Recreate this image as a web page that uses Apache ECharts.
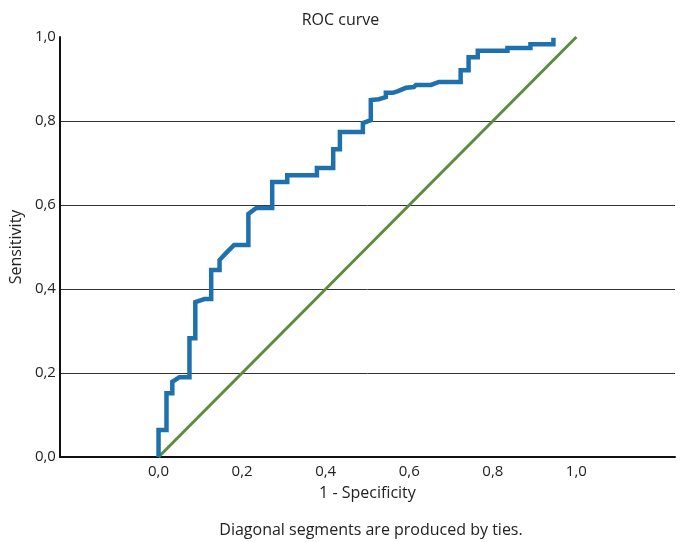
<!DOCTYPE html>
<html>
<head>
<meta charset="utf-8">
<script src="https://cdn.jsdelivr.net/npm/echarts@6/dist/echarts.min.js"></script>
<style>
  html, body { margin: 0; padding: 0; background: #fff; }
  #chart { width: 681px; height: 542px; }
</style>
</head>
<body>
<div id="chart"></div>
<script>
// ROC curve vertices (1 - specificity, sensitivity)
const rocX = [0, 0, 0.019, 0.019, 0.033, 0.033, 0.050, 0.074, 0.074, 0.088, 0.088, 0.110, 0.126, 0.126,
  0.146, 0.146, 0.162, 0.181, 0.215, 0.215, 0.234, 0.272, 0.272, 0.308, 0.308, 0.379, 0.379, 0.418,
  0.418, 0.434, 0.434, 0.489, 0.489, 0.508, 0.508, 0.527, 0.544, 0.544, 0.561, 0.561, 0.573, 0.592,
  0.611, 0.616, 0.652, 0.671, 0.723, 0.723, 0.742, 0.742, 0.764, 0.764, 0.835, 0.835, 0.890, 0.890,
  0.945, 0.945];
const rocY = [0, 0.064, 0.064, 0.152, 0.152, 0.179, 0.190, 0.190, 0.283, 0.283, 0.369, 0.376, 0.376, 0.445,
  0.445, 0.469, 0.486, 0.505, 0.505, 0.579, 0.593, 0.593, 0.655, 0.655, 0.671, 0.671, 0.688, 0.688,
  0.733, 0.733, 0.774, 0.774, 0.795, 0.802, 0.850, 0.852, 0.857, 0.867, 0.867, 0.871, 0.871, 0.879,
  0.881, 0.886, 0.886, 0.893, 0.893, 0.921, 0.921, 0.952, 0.952, 0.967, 0.967, 0.974, 0.974, 0.983,
  0.983, 0.998];
const refX = [0, 1];
const refY = [0, 1];
const xTicks = [0, 0.2, 0.4, 0.6, 0.8, 1.0];

const font = '"Open Sans", Lato, sans-serif';
const fmt = (v) => v.toFixed(1).replace('.', ',');

var myChart = echarts.init(document.getElementById('chart'));

var option = {
  animation: false,
  title: [
    {
      text: 'ROC curve',
      left: 'center',
      top: 7,
      textStyle: { fontFamily: font, fontSize: 16, fontWeight: 'normal', color: '#222' },
    },
    {
      text: 'Diagonal segments are produced by ties.',
      left: 366,
      textAlign: 'center',
      top: 517,
      textStyle: { fontFamily: font, fontSize: 16, fontWeight: 'normal', color: '#222' },
    },
  ],
  grid: { left: 58, right: 6, top: 37, bottom: 85 },
  xAxis: {
    type: 'value',
    min: -0.236,
    max: 1.236,
    name: '1 - Specificity',
    nameLocation: 'middle',
    nameGap: 28,
    nameTextStyle: { fontFamily: font, fontSize: 16, color: '#222' },
    axisLine: { show: true, onZero: false, lineStyle: { color: '#111', width: 2 } },
    axisTick: { show: false },
    splitLine: { show: false },
    axisLabel: {
      customValues: xTicks,
      formatter: fmt,
      fontFamily: font,
      fontSize: 15,
      color: '#222',
      margin: 7,
    },
  },
  yAxis: {
    type: 'value',
    min: 0,
    max: 1,
    interval: 0.2,
    name: 'Sensitivity',
    nameLocation: 'middle',
    nameGap: 33,
    nameTextStyle: { fontFamily: font, fontSize: 16, color: '#222' },
    axisLine: { show: true, onZero: false, lineStyle: { color: '#111', width: 2 } },
    axisTick: { show: false },
    splitLine: {
      show: true,
      showMinLine: false,
      showMaxLine: false,
      lineStyle: { color: '#333', width: 1 },
    },
    axisLabel: { formatter: fmt, fontFamily: font, fontSize: 15, color: '#222', margin: 4 },
  },
  series: [
    {
      type: 'line',
      data: refX.map((x, i) => [x, refY[i]]),
      showSymbol: false,
      lineStyle: { color: '#5b8c3f', width: 3 },
      z: 2,
    },
    {
      type: 'line',
      data: rocX.map((x, i) => [x, rocY[i]]),
      showSymbol: false,
      lineStyle: { color: '#1f71ae', width: 4.5, join: 'miter' },
      z: 3,
    },
  ],
};

myChart.setOption(option);
</script>
</body>
</html>
